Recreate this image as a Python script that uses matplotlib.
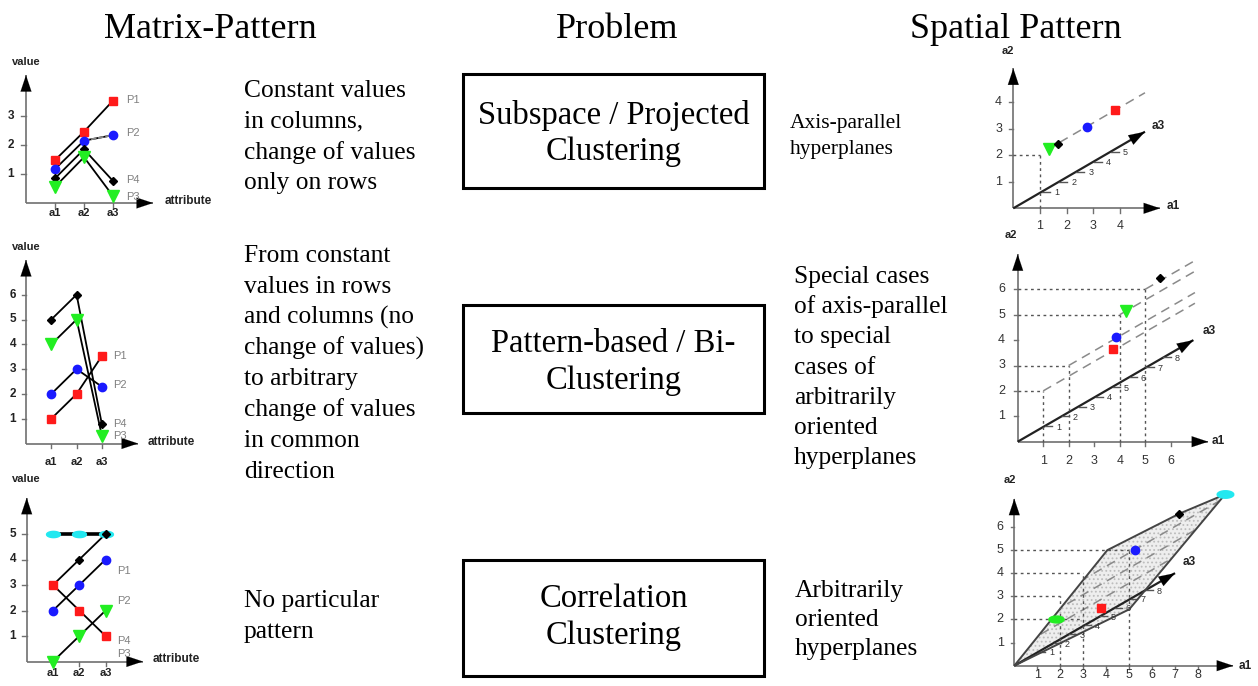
import matplotlib
matplotlib.use("Agg")
import matplotlib.pyplot as plt
import matplotlib.path as mpath
from matplotlib.patches import Rectangle, Polygon
import numpy as np

W, H = 1258, 686

# ---------------- data ----------------
headers = ["Matrix-Pattern", "Problem", "Spatial Pattern"]
problems = [["Subspace / Projected", "Clustering"],
            ["Pattern-based / Bi-", "Clustering"],
            ["Correlation", "Clustering"]]
matrix_texts = [["Constant values", "in columns,", "change of values", "only on rows"],
                ["From constant", "values in rows", "and columns (no", "change of values)",
                 "to arbitrary", "change of values", "in common", "direction"],
                ["No particular", "pattern"]]
spatial_texts = [["Axis-parallel", "hyperplanes"],
                 ["Special cases", "of axis-parallel", "to special", "cases of",
                  "arbitrarily", "oriented", "hyperplanes"],
                 ["Arbitrarily", "oriented", "hyperplanes"]]

attrs = ["a1", "a2", "a3"]
point_labels = ["P1", "P2", "P4", "P3"]

# matrix pattern 1 (subspace)
m1_red = [1.48, 2.46, 3.53]
m1_blue = [1.17, 2.15, 2.34]
m1_black = [0.85, 1.85, 0.76]
m1_green = [0.56, 1.58, 0.24]
m1_yticks = [1, 2, 3]
m1_label_y = [3.55, 2.4, 0.78, 0.22]

# matrix pattern 2 (bi-clustering)
m2_black = [5, 6, 0.77]
m2_green = [4, 5, 0.3]
m2_blue = [2, 3, 2.29]
m2_red = [1, 2, 3.53]
m2_yticks = [1, 2, 3, 4, 5, 6]
m2_label_y = [3.53, 2.36, 0.78, 0.32]

# matrix pattern 3 (correlation)
m3_cyan = [5, 5, 5]
m3_black = [3, 4, 5]
m3_blue = [2, 3, 4]
m3_red = [3, 2, 1]
m3_green = [0, 1, 2]
m3_yticks = [1, 2, 3, 4, 5]
m3_label_y = [3.55, 2.38, 0.82, 0.29]

# spatial pattern 1
s1_green = (1.34, 2.23)
s1_black = (1.69, 2.43)
s1_blue = (2.76, 3.06)
s1_red = (3.82, 3.71)
s1_xticks = [1, 2, 3, 4]
s1_yticks = [1, 2, 3, 4]
s1_a3ticks = [1, 2, 3, 4, 5]
s1_proj = [(1, 2)]

# spatial pattern 2
s2_green = (4.25, 5.15)
s2_black = (5.58, 6.43)
s2_blue = (3.86, 4.13)
s2_red = (3.75, 3.64)
s2_xticks = [1, 2, 3, 4, 5, 6]
s2_yticks = [1, 2, 3, 4, 5, 6]
s2_a3ticks = [1, 2, 3, 4, 5, 6, 7, 8]
s2_proj = [(1, 2), (2, 3), (4, 5), (5, 6)]

# spatial pattern 3
s3_green = (1.82, 2.03)
s3_red = (3.77, 2.5)
s3_blue = (5.27, 4.98)
s3_black = (7.2, 6.55)
s3_cyan = (9.2, 7.38)
s3_xticks = [1, 2, 3, 4, 5, 6, 7, 8]
s3_yticks = [1, 2, 3, 4, 5, 6]
s3_a3ticks = [1, 2, 3, 4, 5, 6, 7, 8]
s3_hull = [(0, 0), (4.06, 4.98), (7.2, 6.55), (9.2, 7.38), (5.02, 2.43)]
s3_hlines = [(2, 3), (3, 2), (4, 3), (5, 5)]
s3_vlines = [(2, 3), (3, 4), (5, 5)]
s3_dash_offsets = [0.7, 1.35, 2.0, 2.65, 3.3]

# ---------------- styles ----------------
SERIF = ["Liberation Serif", "DejaVu Serif"]
SANS = ["Liberation Sans", "DejaVu Sans"]
RED, BLUE, GREEN, CYAN = "#ff1a1a", "#1a1aff", "#22ee22", "#22e8f0"
AXC = "#707070"
plt.rcParams["hatch.linewidth"] = 0.8
ell = mpath.Path(np.column_stack([np.cos(np.linspace(0, 2*np.pi, 40)),
                                  0.45*np.sin(np.linspace(0, 2*np.pi, 40))]))

fig = plt.figure(figsize=(W/100, H/100), dpi=100)
ov = fig.add_axes([0, 0, 1, 1])
ov.set_xlim(0, W); ov.set_ylim(H, 0); ov.axis("off")


def panel(ox, oy, ux, uy, xr, yr):
    xmin, xmax = xr
    ymin, ymax = yr
    left = (ox + xmin*ux)/W
    right = (ox + xmax*ux)/W
    top_px = oy - ymax*uy
    bot_px = oy - ymin*uy
    ax = fig.add_axes([left, 1 - bot_px/H, right-left, (bot_px-top_px)/H])
    ax.set_xlim(xmin, xmax); ax.set_ylim(ymin, ymax); ax.axis("off")
    return ax


def arrow(ax, p0, p1, color=AXC, lw=1.2, head="black", ms=12):
    ax.plot([p0[0], p1[0]], [p0[1], p1[1]], color=color, lw=lw, clip_on=False,
            solid_capstyle="butt")
    ax.annotate("", xy=p1, xytext=(p0[0] + (p1[0]-p0[0])*0.95, p0[1] + (p1[1]-p0[1])*0.95),
                arrowprops=dict(arrowstyle="-|>,head_length=0.9,head_width=0.3",
                                color=head, lw=0.1, shrinkA=0, shrinkB=0,
                                mutation_scale=ms), annotation_clip=False)


# ---------------- headers, boxes, texts ----------------
for t, x in zip(headers, [210, 617, 1016]):
    ov.text(x, 38, t, family=SERIF, fontsize=26, ha="center", va="baseline")

box_y = [(74, 188), (305, 413), (560, 676)]
box_base = [(124, 160), (352, 389), (607, 644)]
for (y0, y1), lines, bases in zip(box_y, problems, box_base):
    ov.add_patch(Rectangle((463, y0), 301, y1-y0, fill=False, lw=2.2, ec="black"))
    for ln, b in zip(lines, bases):
        ov.text(613.5, b, ln, family=SERIF, fontsize=23.5, ha="center", va="baseline")

for lines, b0, sp in zip(matrix_texts, [97, 262, 607], [30.8, 30.8, 30.8]):
    for i, ln in enumerate(lines):
        ov.text(244, b0 + i*sp, ln, family=SERIF, fontsize=18.4, ha="left", va="baseline")

for lines, x0, b0, sp, fs in zip(spatial_texts, [790, 794, 795], [128, 283, 597],
                                 [26, 30.2, 29], [15.5, 18.4, 18.4]):
    for i, ln in enumerate(lines):
        ov.text(x0, b0 + i*sp, ln, family=SERIF, fontsize=fs, ha="left", va="baseline")


# ---------------- matrix panels ----------------
def matrix_panel(ox, oy, ux, uy, ytop, xend, yticks, series, label_y, label_x,
                 val_y, attr_x, a_y, extra=None):
    ax = panel(ox, oy, ux, uy, (-0.9, 6.6), (-1.0, ytop + 1.0))
    arrow(ax, (0, 0), (0, ytop), ms=13)
    arrow(ax, (0, 0), (xend, 0), ms=13)
    for yt in yticks:
        ax.plot([-0.16, 0], [yt, yt], color=AXC, lw=1, clip_on=False)
        ax.text(-0.52, yt, str(yt), family=SANS, fontsize=8.5, weight="bold",
                ha="center", va="center", color="#222222")
    for i, a in enumerate(attrs):
        ax.plot([i+1, i+1], [0, -0.16*29/uy], color=AXC, lw=1, clip_on=False)
        ax.text(i+1, a_y, a, family=SANS, fontsize=8, weight="bold",
                ha="center", va="center", color="#222222")
    ax.text(0, val_y, "value", family=SANS, fontsize=8, weight="bold",
            ha="center", va="center", color="#222222")
    ax.text(attr_x, 0.08, "attribute", family=SANS, fontsize=8.5, weight="bold",
            ha="left", va="center", color="#222222")
    xs = [1, 2, 3]
    for vals, col, mk, ms, lc, lw in series:
        if lc is not None:
            ax.plot(xs, vals, color=lc, lw=lw, clip_on=False, zorder=2)
        ax.plot(xs, vals, ls="none", marker=mk, color=col, ms=ms, mec=col, clip_on=False, zorder=3)
    if extra:
        extra(ax)
    for lab, ly in zip(point_labels, label_y):
        ax.text(label_x, ly, lab, family=SANS, fontsize=8, color="#808080",
                ha="left", va="center")
    return ax


matrix_panel(26, 203, 29, 29, 4.41, 4.38, m1_yticks,
             [(m1_red, RED, "s", 6, "black", 1.3),
              (m1_blue, BLUE, "o", 6, "black", 1.3),
              (m1_black, "black", "D", 4, "black", 1.3),
              (m1_green, GREEN, "v", 9, "black", 1.3)],
             m1_label_y, 3.45, 4.86, 4.79, -0.36,
             extra=lambda ax: ax.plot([2, 3], [m1_blue[1], m1_blue[2]], color="#888888",
                                      lw=1.3, ls=(0, (3, 1)), zorder=2.5))

matrix_panel(26, 443.5, 25.3, 24.8, 7.4, 4.43, m2_yticks,
             [(m2_black, "black", "D", 4, "black", 1.3),
              (m2_green, GREEN, "v", 9, "black", 1.3),
              (m2_blue, BLUE, "o", 6, "black", 1.3),
              (m2_red, RED, "s", 6, "black", 1.3)],
             m2_label_y, 3.45, 7.94, 4.82, -0.75)

matrix_panel(26.7, 661.5, 26.3, 25.5, 6.42, 4.42, m3_yticks,
             [(m3_cyan, CYAN, ell, 10, "black", 2.6),
              (m3_black, "black", "D", 4, "black", 1.3),
              (m3_blue, BLUE, "o", 6, "black", 1.3),
              (m3_red, RED, "s", 6, "black", 1.3),
              (m3_green, GREEN, "v", 9, "black", 1.3)],
             m3_label_y, 3.42, 7.16, 4.8, -0.46)


# ---------------- spatial panels ----------------
def spatial_panel(ox, oy, ux, uy, ytop, xend, a3tip, xticks, yticks, a3ticks,
                  xl_y, yl_x, a2pos, a1pos, a3pos, step, off):
    ax = panel(ox, oy, ux, uy, (-1.2, xend + 1.5), (-1.2, ytop + 1.3))
    arrow(ax, (0, 0), (0, ytop), ms=13)
    arrow(ax, (0, 0), (xend, 0), ms=13)
    arrow(ax, (0, 0), a3tip, color="#222222", lw=1.6, ms=13)
    for xt in xticks:
        ax.plot([xt, xt], [0, -0.16], color=AXC, lw=1, clip_on=False)
        ax.text(xt, xl_y, str(xt), family=SANS, fontsize=9, ha="center", va="center",
                color="#333333")
    for yt in yticks:
        ax.plot([-0.16, 0], [yt, yt], color=AXC, lw=1, clip_on=False)
        ax.text(yl_x, yt, str(yt), family=SANS, fontsize=9, ha="center", va="center",
                color="#333333")
    d = np.array(a3tip) / np.hypot(*a3tip)
    for k in a3ticks:
        p = d * (off + step*k)
        ax.plot([p[0], p[0] + 0.3], [p[1], p[1]], color="#555555", lw=1, clip_on=False)
        ax.text(p[0] + 0.45, p[1] - 0.05, str(k), family=SANS, fontsize=6.5,
                ha="left", va="center", color="#333333")
    ax.text(*a2pos, "a2", family=SANS, fontsize=8, weight="bold", ha="center", va="center",
            color="#222222")
    ax.text(*a1pos, "a1", family=SANS, fontsize=8.5, weight="bold", ha="left", va="center",
            color="#222222")
    ax.text(*a3pos, "a3", family=SANS, fontsize=8.5, weight="bold", ha="left", va="center",
            color="#222222")
    return ax


DOT = dict(color="#555555", lw=1.0, ls=(0, (2, 2.5)), clip_on=False)
DASH = dict(color="#8a8a8a", lw=1.1, ls=(0, (6, 4)), clip_on=False)

ax = spatial_panel(1013.3, 208.3, 26.6, 26.5, 5.28, 5.52, (4.95, 2.89),
                   s1_xticks, s1_yticks, s1_a3ticks, -0.67, -0.55,
                   (-0.2, 5.92), (5.75, 0.1), (5.2, 3.1), 0.75, 0.5)
for px, py in s1_proj:
    ax.plot([0, px], [py, py], **DOT)
    ax.plot([px, px], [0, py], **DOT)
ax.plot([1.25, 4.95], [2.2, 4.36], **DASH)
ax.plot(*s1_green, marker="v", color=GREEN, ms=9, clip_on=False)
ax.plot(*s1_black, marker="D", color="black", ms=4, clip_on=False)
ax.plot(*s1_blue, marker="o", color=BLUE, ms=6, clip_on=False)
ax.plot(*s1_red, marker="s", color=RED, ms=6, clip_on=False)

ax = spatial_panel(1017.7, 441.7, 25.5, 25.4, 7.38, 7.47, (6.89, 4.0),
                   s2_xticks, s2_yticks, s2_a3ticks, -0.76, -0.63,
                   (-0.26, 8.14), (7.6, 0.03), (7.25, 4.36), 0.77, 0.45)
for px, py in s2_proj:
    ax.plot([0, px], [py, py], **DOT)
    ax.plot([px, px], [0, py], **DOT)
    ax.plot([px, 6.95], [py, py + 0.58*(6.95 - px)], **DASH)
ax.plot(*s2_green, marker="v", color=GREEN, ms=9, clip_on=False)
ax.plot(*s2_black, marker="D", color="black", ms=4, clip_on=False)
ax.plot(*s2_blue, marker="o", color=BLUE, ms=6, clip_on=False)
ax.plot(*s2_red, marker="s", color=RED, ms=6, clip_on=False)

ax = spatial_panel(1014.3, 665.7, 22.9, 23.2, 7.2, 9.56, (7.02, 3.99),
                   s3_xticks, s3_yticks, s3_a3ticks, -0.42, -0.62,
                   (-0.19, 8.0), (9.8, 0.0), (7.35, 4.45), 0.77, 0.45)
poly = Polygon(s3_hull, closed=True, facecolor="#eeeeee", edgecolor="#bdbdbd",
               hatch="....", lw=0, zorder=0.5)
ax.add_patch(poly)
ax.add_patch(Polygon(s3_hull, closed=True, fill=False, edgecolor="#444444", lw=1.4, zorder=2))
clip_poly = Polygon(s3_hull, closed=True, transform=ax.transData)
for c in s3_dash_offsets:
    xa = np.array([0.0, 9.5])
    ln, = ax.plot(xa, 0.57*xa + c, color="#8a8a8a", lw=1.1, ls=(0, (6, 4)), zorder=1)
    ln.set_clip_path(clip_poly)
for hy, hx in s3_hlines:
    ax.plot([0, hx], [hy, hy], **DOT)
for vx, vy in s3_vlines:
    ax.plot([vx, vx], [0, vy], **DOT)
ax.plot(*s3_green, marker=ell, color=GREEN, ms=11, clip_on=False, zorder=4)
ax.plot(*s3_red, marker="s", color=RED, ms=6, clip_on=False, zorder=4)
ax.plot(*s3_blue, marker="o", color=BLUE, ms=6, clip_on=False, zorder=4)
ax.plot(*s3_black, marker="D", color="black", ms=4, clip_on=False, zorder=4)
ax.plot(*s3_cyan, marker=ell, color=CYAN, ms=12, clip_on=False, zorder=4)

fig.savefig("out.png", dpi=100)
